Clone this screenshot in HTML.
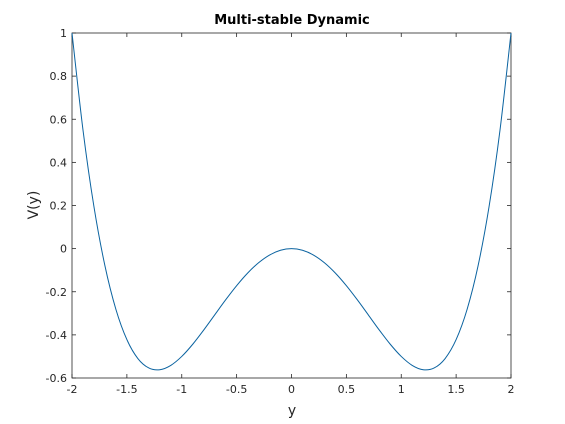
<!DOCTYPE html>
<html>
<head>
<meta charset="utf-8">
<style>
  html, body { margin: 0; padding: 0; background: #fff; }
  svg { display: block; font-family: "DejaVu Sans", "Liberation Sans", sans-serif; }
</style>
</head>
<body>
<svg id="chart" width="565" height="424" xmlns="http://www.w3.org/2000/svg">
  <rect x="0" y="0" width="565" height="424" fill="#fff"/>
  <rect x="72" y="33" width="439" height="345" fill="#fff" stroke="#262626" stroke-width="0.8"/>
  <g id="xticks"></g>
  <g id="yticks"></g>
  <path id="curve" fill="none" stroke="#0b63a0" stroke-width="1"/>
  <text x="292" y="24" text-anchor="middle" font-size="13" font-weight="bold" fill="#000">Multi-stable Dynamic</text>
  <text x="292" y="415" text-anchor="middle" font-size="14" fill="#262626">y</text>
  <text transform="translate(38,205) rotate(-90)" text-anchor="middle" font-size="14" fill="#262626">V(y)</text>
</svg>
<script>
const xs = [-2,-1.9,-1.8,-1.7,-1.6,-1.5,-1.4,-1.3,-1.2,-1.1,-1,-0.9,-0.8,-0.7,-0.6,-0.5,-0.4,-0.3,-0.2,-0.1,0,0.1,0.2,0.3,0.4,0.5,0.6,0.7,0.8,0.9,1,1.1,1.2,1.3,1.4,1.5,1.6,1.7,1.8,1.9,2];
const vs = [1,0.5505,0.1944,-0.0795,-0.2816,-0.4219,-0.5096,-0.5535,-0.5616,-0.5415,-0.5,-0.4435,-0.3776,-0.3075,-0.2376,-0.1719,-0.1136,-0.0655,-0.0296,-0.0075,0,-0.0075,-0.0296,-0.0655,-0.1136,-0.1719,-0.2376,-0.3075,-0.3776,-0.4435,-0.5,-0.5415,-0.5616,-0.5535,-0.5096,-0.4219,-0.2816,-0.0795,0.1944,0.5505,1];
const xTickVals = [-2,-1.5,-1,-0.5,0,0.5,1,1.5,2];
const xTickLabels = ["-2","-1.5","-1","-0.5","0","0.5","1","1.5","2"];
const yTickVals = [-0.6,-0.4,-0.2,0,0.2,0.4,0.6,0.8,1];
const yTickLabels = ["-0.6","-0.4","-0.2","0","0.2","0.4","0.6","0.8","1"];

const L = 72, R = 511, T = 33, B = 378;
const xMin = -2, xMax = 2, yMin = -0.6, yMax = 1;
function sx(v) { return L + (v - xMin) / (xMax - xMin) * (R - L); }
function sy(v) { return B - (v - yMin) / (yMax - yMin) * (B - T); }
const NS = "http://www.w3.org/2000/svg";

const xg = document.getElementById('xticks');
xTickVals.forEach((v, i) => {
  const x = sx(v);
  [[B, B - 4], [T, T + 4]].forEach(([a, b]) => {
    const l = document.createElementNS(NS, 'line');
    
    
    l.setAttribute('x1', x); l.setAttribute('x2', x);
    l.setAttribute('y1', a); l.setAttribute('y2', b);
    l.setAttribute('stroke', '#262626'); l.setAttribute('stroke-width', '0.8');
    xg.appendChild(l);
  });
  const t = document.createElementNS(NS, 'text');
  
  
  t.setAttribute('x', x); t.setAttribute('y', B + 15);
  t.setAttribute('text-anchor', 'middle'); t.setAttribute('font-size', '11');
  t.setAttribute('fill', '#262626');
  t.textContent = xTickLabels[i];
  xg.appendChild(t);
});

const yg = document.getElementById('yticks');
yTickVals.forEach((v, i) => {
  const y = sy(v);
  [[L, L + 4], [R, R - 4]].forEach(([a, b]) => {
    const l = document.createElementNS(NS, 'line');
    
    
    l.setAttribute('x1', a); l.setAttribute('x2', b);
    l.setAttribute('y1', y); l.setAttribute('y2', y);
    l.setAttribute('stroke', '#262626'); l.setAttribute('stroke-width', '0.8');
    yg.appendChild(l);
  });
  const t = document.createElementNS(NS, 'text');
  
  
  t.setAttribute('x', L - 5); t.setAttribute('y', y + 4);
  t.setAttribute('text-anchor', 'end'); t.setAttribute('font-size', '11');
  t.setAttribute('fill', '#262626');
  t.textContent = yTickLabels[i];
  yg.appendChild(t);
});

// smooth Catmull-Rom path through the data points
const pts = xs.map((v, i) => [sx(v), sy(vs[i])]);
let d = 'M' + pts[0][0].toFixed(2) + ',' + pts[0][1].toFixed(2);
for (let i = 0; i < pts.length - 1; i++) {
  const p0 = pts[Math.max(0, i - 1)], p1 = pts[i], p2 = pts[i + 1], p3 = pts[Math.min(pts.length - 1, i + 2)];
  const c1x = p1[0] + (p2[0] - p0[0]) / 6, c1y = p1[1] + (p2[1] - p0[1]) / 6;
  const c2x = p2[0] - (p3[0] - p1[0]) / 6, c2y = p2[1] - (p3[1] - p1[1]) / 6;
  d += 'C' + c1x.toFixed(2) + ',' + c1y.toFixed(2) + ' ' + c2x.toFixed(2) + ',' + c2y.toFixed(2) + ' ' + p2[0].toFixed(2) + ',' + p2[1].toFixed(2);
}
document.getElementById('curve').setAttribute('d', d);
</script>
</body>
</html>
